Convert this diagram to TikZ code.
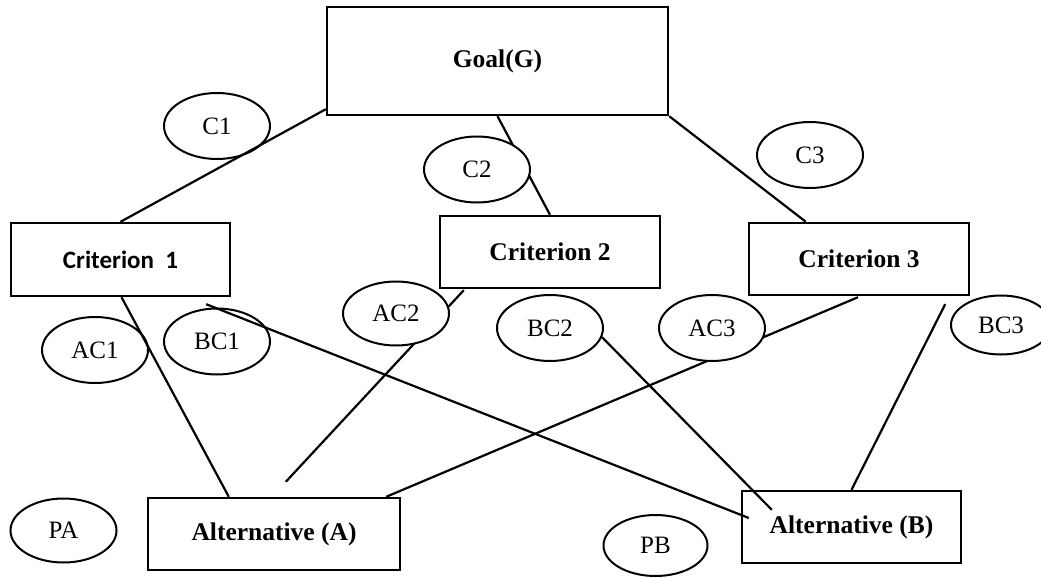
\documentclass[tikz,border=0pt]{standalone}
\usepackage{fontspec}
\setmainfont{Liberation Serif}
\newfontfamily\calibrifont{Carlito}
\usetikzlibrary{shapes.geometric,backgrounds}

\tikzset{
  box/.style={draw, line width=2.4pt, inner sep=0pt, font=\fontsize{25.5}{29}\selectfont\bfseries},
  weight/.style={draw, ellipse, fill=white, line width=2pt, inner sep=0pt,
    minimum width=106pt, minimum height=66pt, font=\fontsize{25}{29}\selectfont},
  link/.style={line width=2.2pt}
}

\begin{document}
\begin{tikzpicture}[x=1pt,y=-1pt]
\clip (0,0) rectangle (1041,578);

% hierarchy boxes
\node[box, minimum width=341pt, minimum height=108pt] (goal) at (497.5,61) {Goal(G)};
\node[box, minimum width=219pt, minimum height=73pt, font=\fontsize{25}{29}\selectfont\calibrifont\bfseries] (crit1) at (120.5,259.5) {Criterion\ \ 1};
\node[box, minimum width=220pt, minimum height=72pt] (crit2) at (550,252) {Criterion 2};
\node[box, minimum width=220pt, minimum height=72pt] (crit3) at (859,259) {Criterion 3};
\node[box, minimum width=252pt, minimum height=72pt] (altA) at (274,534) {Alternative (A)};
\node[box, minimum width=219pt, minimum height=72pt] (altB) at (851.5,527) {Alternative (B)};

% weights
\node[weight] (c1) at (217,126) {C1};
\node[weight] (c2) at (477,169.5) {C2};
\node[weight] (c3) at (810,155) {C3};
\node[weight] (ac1) at (95,350) {AC1};
\node[weight] (bc1) at (217,341.5) {BC1};
\node[weight, minimum height=64pt] (ac2) at (396,313.5) {AC2};
\node[weight] (bc2) at (550,328) {BC2};
\node[weight] (ac3) at (712,328) {AC3};
\node[weight, minimum width=100pt, minimum height=59pt] (bc3) at (1001,325) {BC3};
\node[weight, minimum height=64pt] (pa) at (63.5,530.5) {PA};
\node[weight, minimum width=104pt, minimum height=61pt] (pb) at (655.5,545.5) {PB};

% free ends of connectors
\coordinate (a2end) at ([xshift=139pt,yshift=15pt]altA.north west);
\coordinate (b1start) at ([xshift=-25pt,yshift=-7pt]crit1.south east);
\coordinate (b3start) at ([xshift=-25pt,yshift=-8pt]crit3.south east);

% connectors running behind the weight ellipses
\begin{pgfonlayer}{background}
\draw[link] (goal.south) -- (crit2.north);
\draw[link] ([xshift=25pt,yshift=-1pt]crit2.south west) -- (a2end);
\draw[link] ([xshift=-1pt,yshift=-1pt]crit3.south) -- ([xshift=-15pt]altA.north east);
\draw[link] (bc2.-10) -- ([xshift=31pt,yshift=-20pt]altB.north west);
\end{pgfonlayer}

% remaining connectors
\draw[link] ([yshift=7pt]goal.south west) -- (crit1.north);
\draw[link] (goal.south east) -- ([xshift=58pt]crit3.north west);
\draw[link] ([xshift=1pt]crit1.south) -- ([xshift=82pt]altA.north west);
\draw[link] (b1start) -- ([xshift=8pt,yshift=9pt]altB.west);
\draw[link] (b3start) -- (altB.north);
\end{tikzpicture}
\end{document}
